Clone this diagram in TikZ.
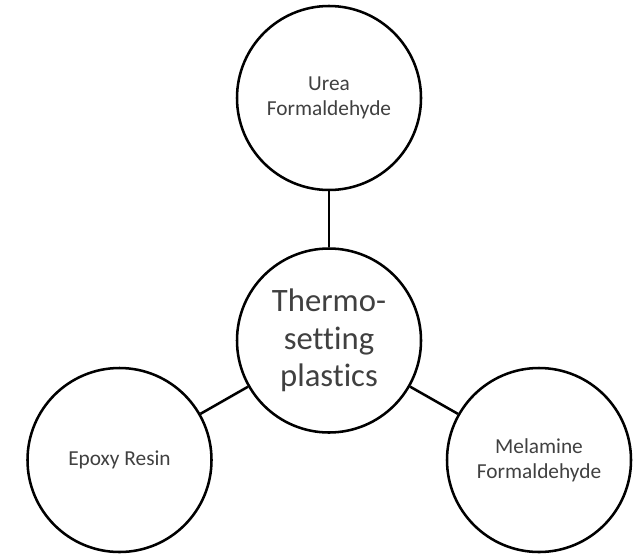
\documentclass[tikz,border=0pt]{standalone}
\usepackage{fontspec}
\setmainfont[Ligatures=NoCommon]{Carlito}
\usetikzlibrary{positioning}
\definecolor{txtgray}{HTML}{404040}

\begin{document}
\begin{tikzpicture}[x=0.75pt,y=-0.75pt,
  bubble/.style={circle,draw=black,line width=1.9pt,minimum size=138pt,inner sep=0pt,
    align=center,text=txtgray,font=\fontsize{16}{18.5}\selectfont},
  link/.style={line width=1.9pt}]
 \useasboundingbox (0,0) rectangle (641,554);
 % centre and the three branches
 \node[bubble,font=\fontsize{24.5}{28}\selectfont] (thermo) at (329,340.5) {Thermo-\\setting\\plastics};
 \node[bubble] (urea) at (329,98) {Urea\\Formaldehyde};
 \node[bubble] (epoxy) at (119.5,460) {Epoxy Resin};
 \node[bubble] (melamine) at (539,460) {Melamine\\Formaldehyde};
 \draw[link] (thermo) -- (urea);
 \draw[link] (thermo) -- (epoxy);
 \draw[link] (thermo) -- (melamine);
\end{tikzpicture}
\end{document}
